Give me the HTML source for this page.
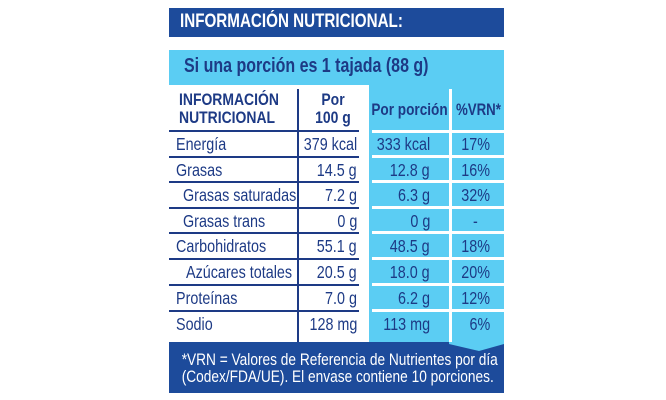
<!DOCTYPE html>
<html><head><meta charset="utf-8"><style>
body{margin:0;width:666px;height:400px;background:#fff;position:relative;overflow:hidden;font-family:"Liberation Sans",sans-serif;}
div{position:absolute;box-sizing:border-box;}
.t{color:#1d3a85;font-size:17.5px;line-height:20px;transform:scaleX(0.82);white-space:nowrap;}
.hl{background:#1d3a85;height:2px;}
.wl{background:#fff;height:3px;}
</style></head><body>
<div style="left:169px;top:8px;width:335px;height:29px;background:#1d4b9b;"></div>
<div style="left:180px;top:11px;color:#fff;font-weight:bold;font-size:19px;transform:scaleX(0.8);transform-origin:left;white-space:nowrap;">INFORMACIÓN NUTRICIONAL:</div>
<div style="left:169px;top:50px;width:335px;height:295px;background:#5bcdf3;"></div>
<div style="left:184px;top:55px;color:#1d3a85;font-weight:bold;font-size:20px;transform:scaleX(0.8);transform-origin:left;white-space:nowrap;">Si una porción es 1 tajada (88 g)</div>
<div style="left:169px;top:85px;width:200px;height:260px;background:#fff;"></div>
<div style="left:297px;top:89px;width:2px;height:253px;background:#1d3a85;"></div>
<div style="left:179px;top:91px;color:#1d3a85;font-weight:bold;font-size:17px;line-height:18px;transform:scaleX(0.82);transform-origin:left;white-space:nowrap;">INFORMACIÓN<br>NUTRICIONAL</div>
<div style="left:297px;top:91px;width:72px;text-align:center;color:#1d3a85;font-weight:bold;font-size:17px;line-height:18px;transform:scaleX(0.82);">Por<br>100 g</div>
<div style="left:360px;top:100px;width:99px;text-align:center;color:#1d3a85;font-weight:bold;font-size:17px;transform:scaleX(0.8);white-space:nowrap;">Por porción</div>
<div style="left:450px;top:100px;width:54px;text-align:center;color:#1d3a85;font-weight:bold;font-size:17px;transform:scaleX(0.78);white-space:nowrap;">%VRN*</div>
<div style="left:449px;top:89px;width:3px;height:253px;background:#fff;"></div>
<div class="hl" style="left:169px;top:130px;width:190px;"></div>
<div class="wl" style="left:372px;top:130px;width:132px;"></div>
<div class="hl" style="left:169px;top:156px;width:190px;"></div><div class="wl" style="left:372px;top:155px;width:132px;"></div>
<div class="hl" style="left:169px;top:181px;width:190px;"></div><div class="wl" style="left:372px;top:180px;width:132px;"></div>
<div class="hl" style="left:169px;top:207px;width:190px;"></div><div class="wl" style="left:372px;top:206px;width:132px;"></div>
<div class="hl" style="left:169px;top:232px;width:190px;"></div><div class="wl" style="left:372px;top:231px;width:132px;"></div>
<div class="hl" style="left:169px;top:258px;width:190px;"></div><div class="wl" style="left:372px;top:257px;width:132px;"></div>
<div class="hl" style="left:169px;top:284px;width:190px;"></div><div class="wl" style="left:372px;top:283px;width:132px;"></div>
<div class="hl" style="left:169px;top:310px;width:190px;"></div><div class="wl" style="left:372px;top:309px;width:132px;"></div>

<div class="t" style="left:176px;top:134px;transform-origin:left;">Energía</div>
<div class="t" style="left:176px;top:160px;transform-origin:left;">Grasas</div>
<div class="t" style="left:183px;top:185px;transform-origin:left;">Grasas saturadas</div>
<div class="t" style="left:183px;top:211px;transform-origin:left;">Grasas trans</div>
<div class="t" style="left:176px;top:236px;transform-origin:left;">Carbohidratos</div>
<div class="t" style="left:186px;top:262px;transform-origin:left;">Azúcares totales</div>
<div class="t" style="left:176px;top:288px;transform-origin:left;">Proteínas</div>
<div class="t" style="left:176px;top:314px;transform-origin:left;">Sodio</div>

<div class="t" style="right:309px;top:134px;transform-origin:right;">379 kcal</div>
<div class="t" style="right:309px;top:160px;transform-origin:right;">14.5 g</div>
<div class="t" style="right:309px;top:185px;transform-origin:right;">7.2 g</div>
<div class="t" style="right:309px;top:211px;transform-origin:right;">0 g</div>
<div class="t" style="right:309px;top:236px;transform-origin:right;">55.1 g</div>
<div class="t" style="right:309px;top:262px;transform-origin:right;">20.5 g</div>
<div class="t" style="right:309px;top:288px;transform-origin:right;">7.0 g</div>
<div class="t" style="right:309px;top:314px;transform-origin:right;">128 mg</div>

<div class="t" style="right:236px;top:134px;transform-origin:right;">333 kcal</div>
<div class="t" style="right:236px;top:160px;transform-origin:right;">12.8 g</div>
<div class="t" style="right:236px;top:185px;transform-origin:right;">6.3 g</div>
<div class="t" style="right:236px;top:211px;transform-origin:right;">0 g</div>
<div class="t" style="right:236px;top:236px;transform-origin:right;">48.5 g</div>
<div class="t" style="right:236px;top:262px;transform-origin:right;">18.0 g</div>
<div class="t" style="right:236px;top:288px;transform-origin:right;">6.2 g</div>
<div class="t" style="right:236px;top:314px;transform-origin:right;">113 mg</div>

<div class="t" style="right:176px;top:134px;transform-origin:right;">17%</div>
<div class="t" style="right:176px;top:160px;transform-origin:right;">16%</div>
<div class="t" style="right:176px;top:185px;transform-origin:right;">32%</div>
<div class="t" style="right:188px;top:211px;transform-origin:right;">-</div>
<div class="t" style="right:176px;top:236px;transform-origin:right;">18%</div>
<div class="t" style="right:176px;top:262px;transform-origin:right;">20%</div>
<div class="t" style="right:176px;top:288px;transform-origin:right;">12%</div>
<div class="t" style="right:176px;top:314px;transform-origin:right;">6%</div>

<div style="left:169px;top:342px;width:335px;height:51px;background:#1d4b9b;"></div>
<svg style="position:absolute;left:449px;top:342px" width="55" height="10"><polygon points="0,0 55,0 55,2 30,9 0,2" fill="#5bcdf3"/></svg>
<div style="left:150px;top:352px;width:373px;text-align:center;color:#fff;font-size:16.5px;line-height:17px;transform:scaleX(0.83);white-space:nowrap;">*VRN = Valores de Referencia de Nutrientes por día<br>(Codex/FDA/UE). El envase contiene 10 porciones.</div>
</body></html>
